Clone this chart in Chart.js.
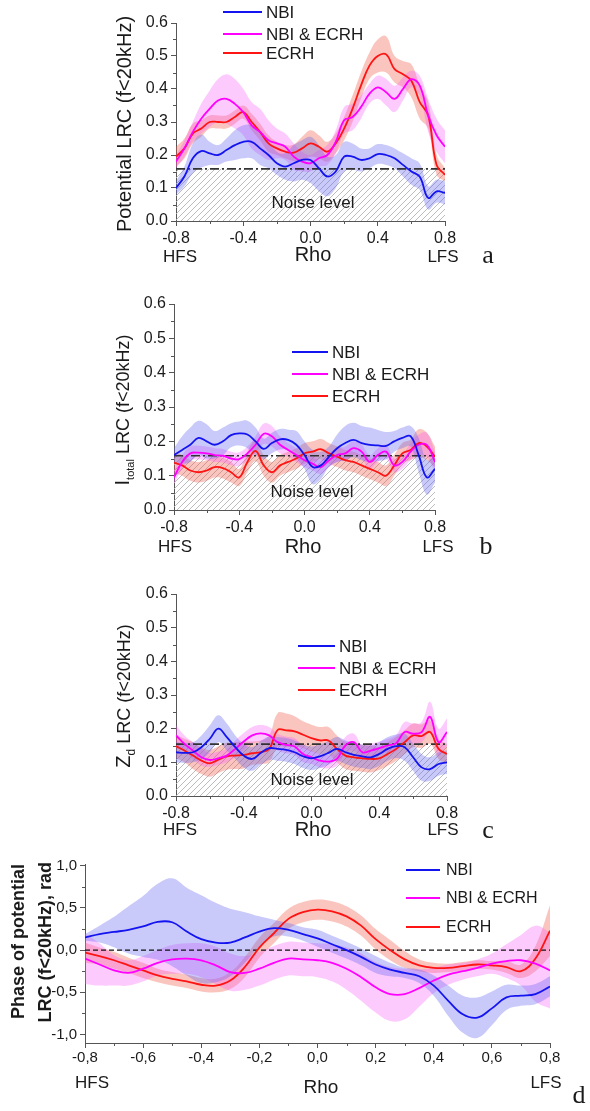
<!DOCTYPE html>
<html><head><meta charset="utf-8">
<script src="https://cdn.jsdelivr.net/npm/chart.js@4.4.0/dist/chart.umd.min.js"></script>
<style>
html,body{margin:0;padding:0;background:#fff;width:590px;height:1111px;overflow:hidden;}
canvas{position:absolute;left:0;}
</style></head><body>
<canvas id="ca" width="590" height="280" style="top:0px"></canvas>
<canvas id="cb" width="590" height="280" style="top:285px"></canvas>
<canvas id="cc" width="590" height="280" style="top:570px"></canvas>
<canvas id="cd" width="590" height="261" style="top:850px"></canvas>
<script>
// ---------------- data ----------------
const RHO = [-0.8,-0.75,-0.7,-0.65,-0.6,-0.55,-0.5,-0.45,-0.4,-0.35,-0.3,-0.25,-0.2,-0.15,-0.1,-0.05,0,0.05,0.1,0.15,0.2,0.25,0.3,0.35,0.4,0.45,0.5,0.55,0.6,0.65,0.7,0.75,0.8];
const SERIES_NAMES = ['NBI','NBI & ECRH','ECRH'];

// panel a : Potential LRC
const A_NBI      = [.10,.135,.19,.212,.205,.20,.215,.23,.24,.24,.22,.20,.175,.165,.175,.185,.185,.16,.135,.15,.195,.195,.185,.19,.203,.20,.19,.17,.15,.134,.07,.09,.085];
const A_NBI_ERR  = [.02,.03,.045,.05,.035,.03,.035,.045,.05,.05,.05,.04,.035,.04,.055,.06,.07,.07,.06,.05,.045,.04,.035,.03,.03,.03,.03,.035,.04,.04,.035,.035,.035];
const A_NBIE     = [.18,.22,.27,.31,.34,.365,.37,.355,.33,.29,.27,.245,.235,.225,.195,.18,.175,.19,.20,.24,.305,.315,.345,.385,.405,.39,.37,.40,.43,.41,.32,.26,.225];
const A_NBIE_ERR = [.02,.025,.03,.045,.055,.065,.075,.075,.07,.07,.07,.06,.045,.04,.04,.03,.025,.025,.03,.035,.04,.04,.035,.03,.035,.04,.04,.035,.025,.03,.05,.05,.05];
const A_ECRH     = [.195,.22,.265,.28,.30,.30,.30,.315,.33,.30,.27,.235,.22,.21,.207,.22,.235,.225,.21,.235,.28,.34,.41,.47,.50,.505,.46,.445,.425,.36,.32,.17,.14];
const A_ECRH_ERR = [.03,.03,.03,.025,.02,.02,.02,.02,.02,.025,.025,.025,.02,.02,.025,.035,.04,.035,.03,.03,.035,.04,.04,.04,.05,.055,.04,.04,.05,.05,.04,.03,.02];
const A_NOISE = 0.158;

// panel b : I_total LRC
const B_NBI      = [.16,.175,.19,.21,.20,.19,.20,.218,.223,.22,.20,.178,.195,.206,.204,.19,.16,.125,.13,.155,.18,.195,.204,.195,.19,.188,.187,.20,.21,.215,.16,.095,.12];
const B_NBI_ERR  = [.02,.04,.05,.05,.05,.04,.04,.035,.035,.04,.04,.03,.03,.03,.03,.04,.04,.05,.04,.03,.04,.05,.05,.05,.05,.045,.04,.03,.03,.03,.05,.05,.04];
const B_NBIE     = [.095,.14,.165,.167,.165,.16,.158,.15,.148,.165,.19,.222,.215,.19,.175,.16,.145,.135,.125,.145,.16,.165,.18,.17,.14,.16,.17,.13,.14,.17,.19,.19,.14];
const B_NBIE_ERR = [.02,.02,.02,.02,.02,.02,.02,.02,.02,.02,.025,.03,.03,.025,.02,.02,.02,.02,.02,.02,.02,.02,.02,.02,.02,.02,.02,.02,.02,.025,.03,.035,.03];
const B_ECRH     = [.138,.13,.115,.11,.115,.125,.122,.11,.095,.14,.172,.13,.11,.13,.14,.15,.165,.17,.177,.165,.155,.145,.14,.13,.12,.11,.10,.13,.165,.175,.195,.185,.155];
const B_ECRH_ERR = [.03,.03,.03,.03,.03,.03,.03,.03,.025,.03,.03,.03,.03,.03,.03,.03,.03,.03,.03,.03,.03,.03,.03,.03,.03,.03,.03,.03,.03,.03,.04,.04,.03];
const B_NOISE = 0.158;

// panel c : Z_d LRC
const C_NBI      = [.13,.128,.13,.145,.17,.20,.175,.145,.12,.11,.128,.142,.14,.137,.13,.118,.112,.118,.128,.14,.13,.122,.118,.115,.125,.14,.148,.145,.115,.085,.08,.095,.10];
const C_NBI_ERR  = [.03,.03,.03,.035,.04,.04,.04,.035,.035,.035,.035,.035,.035,.035,.035,.035,.035,.035,.035,.035,.035,.035,.035,.035,.035,.035,.035,.04,.04,.04,.035,.035,.035];
const C_NBIE     = [.18,.155,.135,.115,.107,.112,.12,.14,.162,.18,.186,.18,.16,.152,.147,.125,.115,.105,.102,.11,.15,.16,.13,.135,.142,.15,.157,.19,.185,.19,.235,.16,.19];
const C_NBIE_ERR = [.03,.025,.025,.025,.02,.02,.02,.025,.025,.025,.025,.025,.025,.025,.025,.025,.02,.02,.02,.02,.025,.025,.02,.02,.02,.02,.025,.03,.03,.03,.045,.04,.04];
const C_ECRH     = [.148,.135,.12,.105,.097,.108,.118,.12,.122,.127,.13,.14,.196,.195,.192,.182,.172,.165,.165,.14,.12,.115,.112,.11,.112,.125,.14,.16,.18,.178,.19,.14,.125];
const C_ECRH_ERR = [.035,.035,.04,.04,.04,.04,.04,.04,.04,.035,.035,.04,.05,.05,.045,.04,.04,.04,.04,.04,.04,.04,.04,.04,.035,.035,.035,.035,.035,.035,.035,.03,.03];
const C_NOISE = 0.154;

// panel d : phase of potential LRC (rad)
const D_NBI      = [.15,.19,.215,.24,.28,.335,.33,.22,.13,.09,.09,.15,.22,.26,.24,.19,.14,.07,0,-.08,-.17,-.23,-.27,-.31,-.42,-.6,-.76,-.80,-.69,-.56,-.54,-.52,-.43];
const D_NBI_ERR  = [.04,.1,.18,.28,.36,.45,.52,.52,.52,.47,.4,.3,.18,.1,.08,.08,.1,.1,.1,.1,.1,.08,.06,.08,.12,.18,.22,.24,.2,.15,.12,.12,.12];
const D_NBIE     = [-.10,-.17,-.24,-.27,-.22,-.15,-.11,-.10,-.12,-.18,-.26,-.27,-.22,-.15,-.10,-.11,-.12,-.15,-.22,-.32,-.44,-.52,-.52,-.45,-.36,-.29,-.25,-.21,-.16,-.13,-.12,-.16,-.24];
const D_NBIE_ERR = [.3,.25,.18,.15,.15,.15,.17,.18,.2,.22,.22,.2,.2,.2,.2,.2,.2,.22,.25,.28,.3,.32,.3,.22,.15,.12,.1,.1,.12,.2,.3,.45,.45];
const D_ECRH     = [-.03,-.07,-.12,-.18,-.24,-.3,-.34,-.37,-.41,-.42,-.36,-.2,.03,.2,.37,.45,.48,.46,.40,.29,.13,0,-.11,-.18,-.21,-.21,-.19,-.17,-.18,-.2,-.25,-.1,.23];
const D_ECRH_ERR = [.12,.1,.1,.09,.09,.08,.08,.08,.08,.08,.1,.12,.12,.12,.12,.12,.12,.12,.12,.12,.12,.12,.1,.07,.06,.05,.05,.05,.05,.07,.08,.15,.3];

// ticks
const X_TICKS_ABC = [-0.8,-0.4,0,0.4,0.8];
const X_MINOR_ABC = [-0.6,-0.2,0.2,0.6];
const Y_TICKS_ABC = [0,0.1,0.2,0.3,0.4,0.5,0.6];
const Y_MINOR_ABC = [0.05,0.15,0.25,0.35,0.45,0.55];
const X_TICKS_D = [-0.8,-0.6,-0.4,-0.2,0,0.2,0.4,0.6,0.8];
const X_MINOR_D = [-0.7,-0.5,-0.3,-0.1,0.1,0.3,0.5,0.7];
const Y_TICKS_D = [-1,-0.5,0,0.5,1];
const Y_MINOR_D = [-0.75,-0.25,0.25,0.75];

// ---------------- styling ----------------
const FONT = '"Liberation Sans", Arial, Helvetica, sans-serif';
const SERIF = '"Liberation Serif", "Times New Roman", serif';
const AXIS = '#555';
const TXT = '#1a1a1a';
const COLORS = ['#1414f0', '#ff00ff', '#ff1414'];
const BANDS = ['rgba(100,100,240,0.35)', 'rgba(250,90,250,0.32)', 'rgba(240,90,70,0.35)'];
const YW = 44, XH = 30;

function pts(vals){ return RHO.map((x,i)=>({x:x, y:vals[i]})); }

function makeHatch(ctx){
  const c = document.createElement('canvas'); c.width = 6; c.height = 6;
  const g = c.getContext('2d');
  g.strokeStyle = '#b4b4b4'; g.lineWidth = 0.9;
  g.beginPath();
  g.moveTo(0,6); g.lineTo(6,0);
  g.moveTo(-1,1); g.lineTo(1,-1);
  g.moveTo(5,7); g.lineTo(7,5);
  g.stroke();
  return ctx.createPattern(c, 'repeat');
}

function drawRotTitle(ctx, cx, cy, pieces, align){
  ctx.save();
  ctx.translate(cx, cy);
  ctx.rotate(-Math.PI/2);
  ctx.fillStyle = TXT;
  ctx.textBaseline = 'alphabetic';
  ctx.textAlign = 'left';
  let total = 0;
  pieces.forEach(p => { ctx.font = p.font; p.w = ctx.measureText(p.t).width; total += p.w; });
  let x = align === 'right' ? -total : -total/2;
  pieces.forEach(p => { ctx.font = p.font; ctx.fillText(p.t, x, p.dy); x += p.w; });
  ctx.restore();
}

function build(id, P){
  const canvas = document.getElementById(id);
  const ctx = canvas.getContext('2d');
  const ds = [];
  if (P.noise !== undefined){
    ds.push({data: pts(RHO.map(()=>P.noise)), fill:'origin', backgroundColor: makeHatch(ctx), borderWidth:0, pointRadius:0, order:5});
    ds.push({data: pts(RHO.map(()=>P.noise)), fill:false, borderColor:'#333', borderWidth:1.6, borderDash:[9,3,2,3], pointRadius:0, order:1});
  }
  if (P.zeroLine){
    ds.push({data: pts(RHO.map(()=>0)), fill:false, borderColor:'#111', borderWidth:1.2, borderDash:[5,3], pointRadius:0, order:1});
  }
  P.series.forEach((s,k)=>{
    ds.push({data: pts(s.v.map((v,i)=>v + s.e[i])), fill:'+1', backgroundColor: BANDS[k], borderWidth:0, pointRadius:0, tension:0.4, order:3});
    ds.push({data: pts(s.v.map((v,i)=>v - s.e[i])), fill:false, borderWidth:0, pointRadius:0, tension:0.4, order:3});
  });
  P.series.forEach((s,k)=>{
    ds.push({data: pts(s.v), fill:false, borderColor: COLORS[k], borderWidth:1.8, pointRadius:0, tension:0.4, order: 0});
  });

  const deco = {
    id:'deco',
    afterDraw(chart){
      const c = chart.ctx, a = chart.chartArea, xs = chart.scales.x, ys = chart.scales.y;
      c.save();
      c.strokeStyle = AXIS; c.lineWidth = 1;
      c.beginPath();
      P.xMinor.forEach(v=>{ const p = Math.round(xs.getPixelForValue(v))+0.5; c.moveTo(p, a.bottom); c.lineTo(p, a.bottom+3); });
      P.yMinor.forEach(v=>{ const p = Math.round(ys.getPixelForValue(v))+0.5; c.moveTo(a.left-3, p); c.lineTo(a.left, p); });
      c.stroke();
      // legend
      const L = P.legend;
      SERIES_NAMES.forEach((n,k)=>{
        const y = L.rows[k] - P.top;
        c.strokeStyle = COLORS[k]; c.lineWidth = 2;
        c.beginPath(); c.moveTo(L.x1, y); c.lineTo(L.x2, y); c.stroke();
        c.fillStyle = TXT; c.font = L.font; c.textAlign = 'left'; c.textBaseline = 'middle';
        c.fillText(n, L.tx, y + 1);
      });
      // plain texts
      P.texts.forEach(t=>{
        c.fillStyle = TXT; c.font = t.font; c.textAlign = 'center'; c.textBaseline = 'middle';
        c.fillText(t.t, t.x, t.y - P.top);
      });
      c.restore();
      P.titles.forEach(T => drawRotTitle(c, T.x, T.y - P.top, T.pieces, T.align));
    }
  };

  const fmt = v => { const s = (Math.abs(v) < 1e-9 ? 0 : v).toFixed(1); return P.comma ? s.replace('.', ',') : s; };

  new Chart(ctx, {
    type:'line',
    data:{datasets: ds},
    options:{
      responsive:false, animation:false, devicePixelRatio:1,
      parsing:true,
      layout:{padding:{left:P.plot.l - YW, right:590 - P.plot.r, top:P.plot.t - P.top, bottom:P.top + P.h - P.plot.b - XH}},
      plugins:{legend:{display:false}, tooltip:{enabled:false}, filler:{propagate:false}},
      scales:{
        x:{type:'linear', min:-0.8, max:0.8,
           afterBuildTicks: s => { s.ticks = P.xTicks.map(v=>({value:v})); },
           afterFit: s => { s.height = XH; },
           ticks:{callback: fmt, autoSkip:false, maxRotation:0, color:TXT, padding:P.xPad, font:{family:FONT, size:P.tickSize}},
           grid:{drawOnChartArea:false, drawTicks:true, tickLength:5, color:AXIS},
           border:{display:true, color:AXIS, width:1}},
        y:{type:'linear', min:P.yMin, max:P.yMax,
           afterBuildTicks: s => { s.ticks = P.yTicks.map(v=>({value:v})); },
           afterFit: s => { s.width = YW; },
           ticks:{callback: fmt, autoSkip:false, color:TXT, padding:3, font:{family:FONT, size:P.tickSize}},
           grid:{drawOnChartArea:false, drawTicks:true, tickLength:5, color:AXIS},
           border:{display:true, color:AXIS, width:1}}
      }
    },
    plugins:[deco]
  });
}

const F17 = '17px ' + FONT;
const LET = '26px ' + SERIF;

build('ca', {
  top:0, h:280, plot:{l:176, r:445, t:23, b:221}, yMin:0, yMax:0.6,
  xTicks:X_TICKS_ABC, xMinor:X_MINOR_ABC, yTicks:Y_TICKS_ABC, yMinor:Y_MINOR_ABC,
  tickSize:16, xPad:3, noise:A_NOISE,
  series:[{v:A_NBI, e:A_NBI_ERR},{v:A_NBIE, e:A_NBIE_ERR},{v:A_ECRH, e:A_ECRH_ERR}],
  legend:{x1:223, x2:262, tx:266, rows:[12,34,53], font:F17},
  texts:[{t:'Noise level', x:313, y:203, font:F17},{t:'HFS', x:180, y:257, font:F17},{t:'LFS', x:443, y:257, font:F17},
         {t:'Rho', x:313, y:255, font:'20px '+FONT},{t:'a', x:488, y:256, font:LET}],
  titles:[{x:131, y:124, pieces:[{t:'Potential LRC (f<20kHz)', font:'20px '+FONT, dy:0}]}]
});

build('cb', {
  top:285, h:280, plot:{l:174, r:435, t:304, b:510}, yMin:0, yMax:0.6,
  xTicks:X_TICKS_ABC, xMinor:X_MINOR_ABC, yTicks:Y_TICKS_ABC, yMinor:Y_MINOR_ABC,
  tickSize:16, xPad:3, noise:B_NOISE,
  series:[{v:B_NBI, e:B_NBI_ERR},{v:B_NBIE, e:B_NBIE_ERR},{v:B_ECRH, e:B_ECRH_ERR}],
  legend:{x1:292, x2:328, tx:332, rows:[352,374,396], font:F17},
  texts:[{t:'Noise level', x:312, y:492, font:F17},{t:'HFS', x:175, y:547, font:F17},{t:'LFS', x:438, y:547, font:F17},
         {t:'Rho', x:303, y:547, font:'20px '+FONT},{t:'b', x:486, y:547, font:LET}],
  titles:[{x:129, y:410, pieces:[{t:'I', font:'20px '+FONT, dy:0},{t:'total', font:'11px '+FONT, dy:5},{t:' LRC (f<20kHz)', font:'18px '+FONT, dy:0}]}]
});

build('cc', {
  top:570, h:280, plot:{l:176, r:447, t:594, b:796}, yMin:0, yMax:0.6,
  xTicks:X_TICKS_ABC, xMinor:X_MINOR_ABC, yTicks:Y_TICKS_ABC, yMinor:Y_MINOR_ABC,
  tickSize:16, xPad:3, noise:C_NOISE,
  series:[{v:C_NBI, e:C_NBI_ERR},{v:C_NBIE, e:C_NBIE_ERR},{v:C_ECRH, e:C_ECRH_ERR}],
  legend:{x1:298, x2:335, tx:339, rows:[646,668,690], font:F17},
  texts:[{t:'Noise level', x:312, y:780, font:F17},{t:'HFS', x:180, y:830, font:F17},{t:'LFS', x:443, y:830, font:F17},
         {t:'Rho', x:313, y:830, font:'20px '+FONT},{t:'c', x:488, y:831, font:LET}],
  titles:[{x:130, y:696, pieces:[{t:'Z', font:'20px '+FONT, dy:0},{t:'d', font:'12px '+FONT, dy:5},{t:' LRC (f<20kHz)', font:'18px '+FONT, dy:0}]}]
});

build('cd', {
  top:850, h:261, plot:{l:85, r:550, t:864, b:1043}, yMin:-1.1, yMax:1.02, comma:true,
  xTicks:X_TICKS_D, xMinor:X_MINOR_D, yTicks:Y_TICKS_D, yMinor:Y_MINOR_D,
  tickSize:15, xPad:1, zeroLine:true,
  series:[{v:D_NBI, e:D_NBI_ERR},{v:D_NBIE, e:D_NBIE_ERR},{v:D_ECRH, e:D_ECRH_ERR}],
  legend:{x1:406, x2:440, tx:446, rows:[870,898,927], font:'16px '+FONT},
  texts:[{t:'HFS', x:92, y:1083, font:F17},{t:'LFS', x:546, y:1083, font:F17},
         {t:'Rho', x:321, y:1088, font:'19px '+FONT},{t:'d', x:579, y:1096, font:LET}],
  titles:[{x:24, y:864, align:'right', pieces:[{t:'Phase of potential', font:'bold 18px '+FONT, dy:0}]},
          {x:51, y:862, align:'right', pieces:[{t:'LRC (f<20kHz), rad', font:'bold 18px '+FONT, dy:0}]}]
});
</script>
</body></html>
